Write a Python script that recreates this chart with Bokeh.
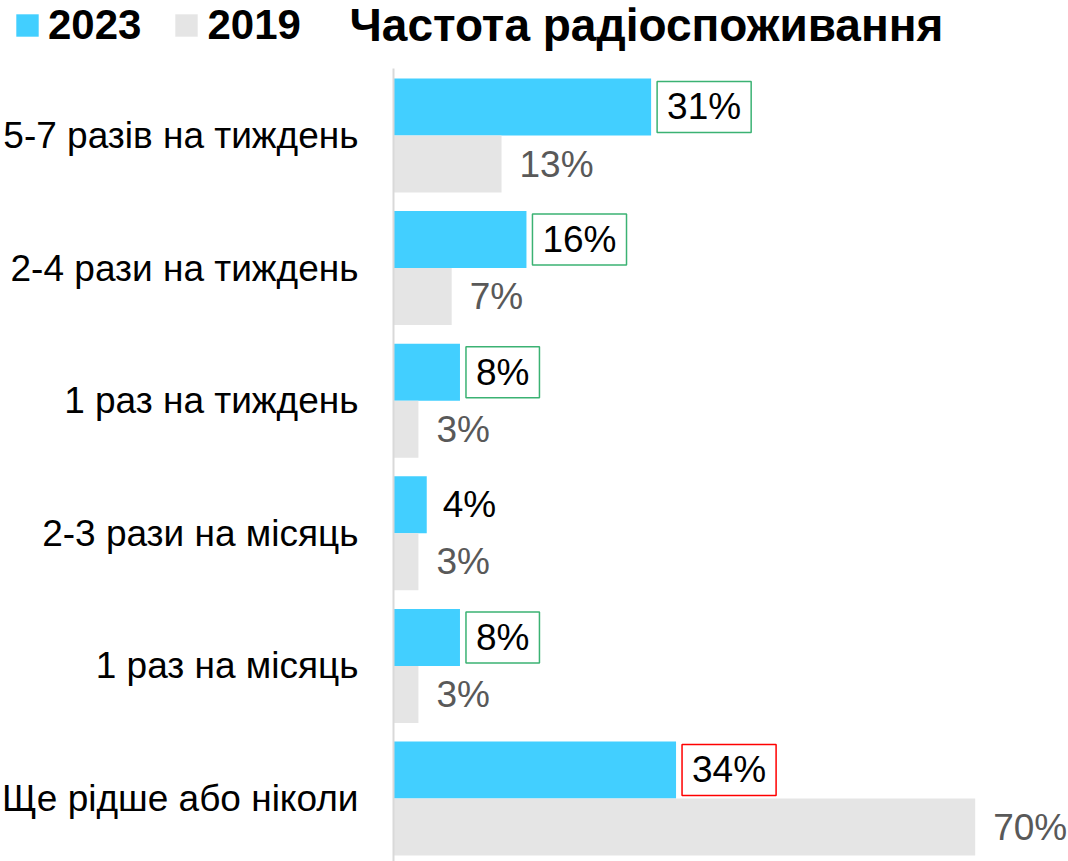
from bokeh.plotting import figure
from bokeh.models import (ColumnDataSource, Range1d, FixedTicker, Legend, LegendItem,
                          LinearAxis, Label)
from bokeh.core.properties import value
from bokeh.embed import file_html
from bokeh.resources import INLINE

categories = ["5-7 разів на тиждень", "2-4 рази на тиждень", "1 раз на тиждень",
              "2-3 рази на місяць", "1 раз на місяць", "Ще рідше або ніколи"]
v2023 = [31, 16, 8, 4, 8, 34]
v2019 = [13, 7, 3, 3, 3, 70]
series_names = ["2023", "2019"]
title_text = "Частота радіоспоживання"
box_colors = ["#3BB273", "#3BB273", "#3BB273", "#00000000", "#3BB273", "#FF0000"]

FONT = "Liberation Sans"
CYAN = "#42CFFF"
GREY = "#E5E5E5"

idx = list(range(len(categories)))
bh = 0.43

src23 = ColumnDataSource(dict(
    y=[i - bh / 2 for i in idx], v=v2023,
    lab=[f"{v}%" for v in v2023], bc=box_colors))
src19 = ColumnDataSource(dict(
    y=[i + bh / 2 for i in idx], v=v2019,
    lab=[f"{v}%" for v in v2019]))

W, H = 1068, 861
PX_PER_PCT = 8.31
X0_PX = 393
PX_PER_CAT = 132.6
Y0_PX = 135

def px_to_x(px):
    return (px - X0_PX) / PX_PER_PCT

def px_to_y(py):
    return (py - Y0_PX) / PX_PER_CAT

p = figure(width=W, height=H, output_backend="svg", toolbar_location=None,
           x_range=Range1d(px_to_x(0), px_to_x(W)),
           y_range=Range1d(px_to_y(H), px_to_y(0)),
           x_axis_type=None, y_axis_type=None,
           min_border_left=0, min_border_top=0,
           min_border_right=0, min_border_bottom=0)
p.outline_line_color = None
p.background_fill_color = "white"

r23 = p.hbar(y="y", right="v", left=0, height=bh, source=src23,
             fill_color=CYAN, line_color=None)
r19 = p.hbar(y="y", right="v", left=0, height=bh, source=src19,
             fill_color=GREY, line_color=None)

p.text(x="v", y="y", text="lab", source=src23, x_offset=6,
       text_align="left", text_baseline="middle",
       text_font=value(FONT), text_font_size="37px", text_color="#000000",
       border_line_color="bc", border_line_width=1.5,
       padding=dict(left=10, right=10, top=5, bottom=5))
p.text(x="v", y="y", text="lab", source=src19, x_offset=18,
       text_align="left", text_baseline="middle",
       text_font=value(FONT), text_font_size="37px", text_color="#595959")

ax = LinearAxis(fixed_location=0)
ax.bounds = (-0.505, px_to_y(H))
ax.ticker = FixedTicker(ticks=idx)
ax.major_label_overrides = {i: c for i, c in zip(idx, categories)}
ax.major_label_text_font = FONT
ax.major_label_text_font_size = "37px"
ax.major_label_text_color = "#000000"
ax.major_label_standoff = 35
ax.major_tick_line_color = None
ax.minor_tick_line_color = None
ax.major_tick_out = 0
ax.major_tick_in = 0
ax.minor_tick_out = 0
ax.axis_line_color = "#D9D9D9"
ax.axis_line_width = 2
p.add_layout(ax, "left")

legend = Legend(items=[LegendItem(label=series_names[0], renderers=[r23]),
                       LegendItem(label=series_names[1], renderers=[r19])],
                orientation="horizontal", location=(13, H - 49))
legend.glyph_width = 28
legend.glyph_height = 28
legend.label_standoff = 7
legend.spacing = 31
legend.padding = 0
legend.margin = 0
legend.border_line_color = None
legend.background_fill_alpha = 0
legend.label_text_font = FONT
legend.label_text_font_size = "42px"
legend.label_text_font_style = "bold"
legend.label_text_color = "#000000"
p.add_layout(legend)

title = Label(x=px_to_x(349), y=px_to_y(24), text=title_text,
              text_font=FONT, text_font_size="46px", text_font_style="bold",
              text_color="#000000", text_align="left", text_baseline="alphabetic")
p.add_layout(title)

open("out.html", "w").write(file_html(p, INLINE))
